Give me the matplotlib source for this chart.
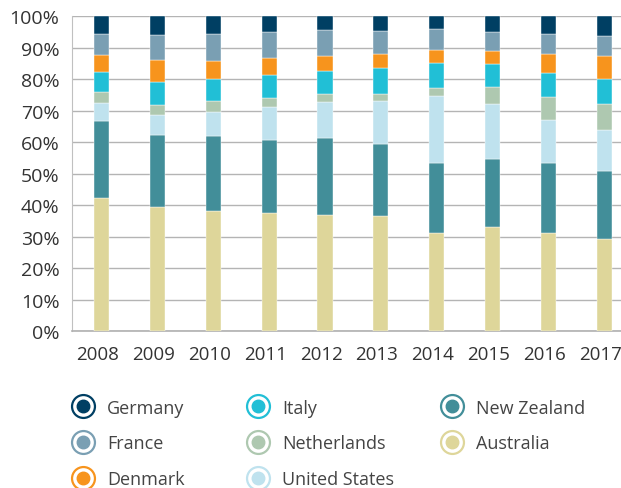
import numpy as np
import matplotlib
matplotlib.use("Agg")
import matplotlib.pyplot as plt
import matplotlib.transforms as mtransforms
from matplotlib.lines import Line2D
from matplotlib.legend_handler import HandlerTuple

years = ["2008", "2009", "2010", "2011", "2012", "2013", "2014", "2015", "2016", "2017"]

# shares in %, stacked bottom -> top
australia = [42.2, 39.4, 38.2, 37.6, 36.9, 36.4, 31.2, 33.1, 31.2, 29.3]
new_zealand = [24.6, 22.8, 23.7, 23.0, 24.5, 23.0, 22.2, 21.6, 22.3, 21.6]
united_states = [5.7, 6.5, 7.8, 10.4, 11.4, 13.7, 21.3, 17.5, 13.6, 12.9]
netherlands = [3.3, 3.2, 3.4, 3.0, 2.5, 2.2, 2.5, 5.4, 7.1, 8.4]
italy = [6.5, 7.1, 6.9, 7.3, 7.2, 8.2, 7.9, 7.2, 7.7, 7.8]
denmark = [5.5, 7.0, 5.6, 5.3, 4.9, 4.5, 4.2, 4.2, 6.1, 7.3]
france = [6.5, 8.1, 8.7, 8.3, 8.2, 7.2, 6.7, 5.9, 6.3, 6.4]
germany = [5.7, 5.9, 5.7, 5.1, 4.4, 4.8, 4.0, 5.1, 5.7, 6.3]

series = [
    ("Australia", australia, "#ded69a"),
    ("New Zealand", new_zealand, "#428e99"),
    ("United States", united_states, "#bfe2ee"),
    ("Netherlands", netherlands, "#aec8b0"),
    ("Italy", italy, "#21bfd6"),
    ("Denmark", denmark, "#f7941d"),
    ("France", france, "#7a9fb3"),
    ("Germany", germany, "#003f63"),
]
# legend columns, read top -> bottom
legend_cols = [["Germany", "France", "Denmark"],
               ["Italy", "Netherlands", "United States"],
               ["New Zealand", "Australia"]]

plt.rcParams["font.family"] = ["Open Sans", "DejaVu Sans"]
text_color = "#333333"

fig = plt.figure(figsize=(6.21, 4.89), dpi=100)
ax = fig.add_axes([0.116, 0.321, 0.884, 0.644])

x = np.arange(len(years))
bottom = np.zeros(len(years))
colors = {}
for name, vals, color in series:
    vals = np.array(vals)
    ax.bar(x, vals, bottom=bottom, width=0.27, color=color,
           edgecolor="white", linewidth=0.3, zorder=3)
    bottom += vals
    colors[name] = color

ax.set_xlim(-0.53, 9.3)
ax.set_ylim(0, 100)
ax.set_yticks(np.arange(0, 101, 10))
ax.set_yticklabels([f"{v}%" for v in range(0, 101, 10)])
ax.set_xticks(x)
ax.set_xticklabels(years)
ax.tick_params(axis="both", length=0, colors=text_color)
ax.tick_params(axis="y", pad=9, labelsize=14)
ax.tick_params(axis="x", pad=10, labelsize=13.5)

# year labels sit a few px left of the bar centres in the original
shift = mtransforms.ScaledTranslation(-4 / 100, 0, fig.dpi_scale_trans)
for lbl in ax.get_xticklabels():
    lbl.set_transform(lbl.get_transform() + shift)

for s in ["top", "right"]:
    ax.spines[s].set_visible(False)
ax.spines["left"].set_color("#c0c0c0")
ax.spines["bottom"].set_color("#b0b0b0")
ax.spines["bottom"].set_linewidth(1.2)
ax.set_axisbelow(True)
ax.grid(axis="y", color="#b4b4b4", linewidth=1.0)

legend_x = [0.1158, 0.398, 0.710]
for col, lx in zip(legend_cols, legend_x):
    handles = []
    for name in col:
        c = colors[name]
        ring = Line2D([], [], marker="o", ms=16.5, mfc="white", mec=c, mew=1.6, ls="")
        dot = Line2D([], [], marker="o", ms=9, color=c, ls="")
        handles.append((ring, dot))
    fig.legend(handles, col, loc="upper left", bbox_to_anchor=(lx, 0.183),
               ncol=1, frameon=False, fontsize=13, labelcolor="#444444",
               handler_map={tuple: HandlerTuple(ndivide=1, pad=0)},
               handlelength=1.2, handletextpad=0.73,
               labelspacing=0.98, borderpad=0, borderaxespad=0)

fig.savefig("out.png", dpi=100)
